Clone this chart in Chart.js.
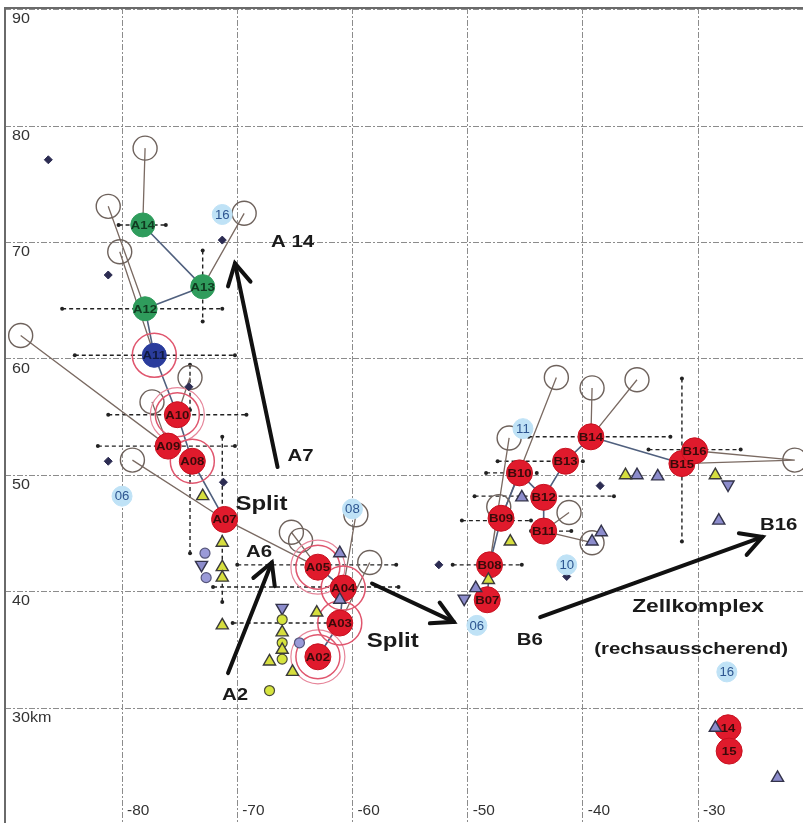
<!DOCTYPE html>
<html>
<head>
<meta charset="utf-8">
<script src="https://cdn.jsdelivr.net/npm/chart.js@4.4.0/dist/chart.umd.min.js"></script>
<style>
  html, body { margin: 0; padding: 0; background: #fff; }
</style>
</head>
<body>
<canvas id="chart" width="803" height="823"></canvas>
<script>
const xTicks = [-80, -70, -60, -50, -40, -30];
const yTicks = [30, 40, 50, 60, 70, 80, 90];
const yTickText = ["30km", "40", "50", "60", "70", "80", "90"];

// cells: [x, y, label]
const greenCells = [[-78.2, 71.5, "A14"], [-73.0, 66.2, "A13"], [-78.0, 64.3, "A12"]];
const blueCells = [[-77.2, 60.3, "A11"]];
const redCells = [
  [-75.2, 55.2, "A10"], [-76.0, 52.5, "A09"], [-73.9, 51.2, "A08"], [-71.1, 46.2, "A07"],
  [-63.0, 42.1, "A05"], [-60.8, 40.3, "A04"], [-61.1, 37.3, "A03"], [-63.0, 34.4, "A02"],
  [-48.1, 42.3, "B08"], [-48.3, 39.3, "B07"], [-47.1, 46.3, "B09"], [-45.5, 50.2, "B10"],
  [-43.4, 48.1, "B12"], [-43.4, 45.2, "B11"], [-41.5, 51.2, "B13"], [-39.3, 53.3, "B14"],
  [-31.4, 51.0, "B15"], [-30.3, 52.1, "B16"], [-27.4, 28.3, "14"], [-27.3, 26.3, "15"]
];
const rings = [[-77.2, 60.3], [-75.2, 55.2], [-73.9, 51.2], [-63.0, 42.1], [-60.8, 40.3], [-61.1, 37.3], [-63.0, 34.4]];
const outerRings = [[-63.0, 42.1], [-63.0, 34.4], [-75.2, 55.2]];
const openCircles = [
  [-78.0, 78.1], [-81.2, 73.1], [-80.2, 69.2], [-69.4, 72.5], [-88.8, 62.0], [-79.1, 51.3],
  [-74.1, 58.4], [-77.4, 56.3], [-65.3, 45.1], [-64.5, 44.4], [-59.7, 46.6], [-58.5, 42.5],
  [-46.4, 53.2], [-42.3, 58.4], [-39.2, 57.5], [-35.3, 58.2], [-21.6, 51.3], [-47.3, 47.3],
  [-41.2, 46.8], [-39.2, 44.2]
];
// segments: [x1, y1, x2, y2]
const tracks = [
  [-78.2, 71.5, -73.0, 66.2], [-73.0, 66.2, -78.0, 64.3], [-78.0, 64.3, -77.2, 60.3],
  [-77.2, 60.3, -75.2, 55.2], [-75.2, 55.2, -73.9, 51.2], [-73.9, 51.2, -71.1, 46.2],
  [-63.0, 42.1, -60.8, 40.3], [-60.8, 40.3, -61.1, 37.3], [-61.1, 37.3, -63.0, 34.4],
  [-48.3, 39.3, -48.1, 42.3], [-48.1, 42.3, -47.1, 46.3], [-47.1, 46.3, -45.5, 50.2],
  [-45.5, 50.2, -43.4, 48.1], [-43.4, 48.1, -43.4, 45.2], [-43.4, 48.1, -41.5, 51.2],
  [-41.5, 51.2, -39.3, 53.3], [-39.3, 53.3, -31.4, 51.0], [-31.4, 51.0, -30.3, 52.1]
];
const vectors = [
  [-78.0, 78.1, -78.2, 71.5], [-81.2, 73.1, -78.0, 64.3], [-80.2, 69.2, -77.2, 60.3],
  [-69.4, 72.5, -73.0, 66.2], [-88.8, 62.0, -76.0, 52.5], [-79.1, 51.3, -71.1, 46.2],
  [-71.1, 46.2, -63.0, 42.1], [-65.3, 45.1, -63.0, 42.1], [-59.7, 46.6, -60.8, 40.3],
  [-58.5, 42.5, -61.1, 37.3], [-46.4, 53.2, -48.1, 42.3], [-42.3, 58.4, -47.1, 46.3],
  [-39.2, 57.5, -39.3, 53.3], [-35.3, 58.2, -39.3, 53.3], [-21.6, 51.3, -31.4, 51.0],
  [-21.6, 51.3, -30.3, 52.1], [-41.2, 46.8, -43.4, 45.2], [-39.2, 44.2, -43.4, 45.2],
  [-47.3, 47.3, -48.1, 42.3], [-74.1, 58.4, -75.2, 55.2], [-77.4, 56.3, -76.0, 52.5]
];
const errorBars = [
  [-80.3, 71.5, -76.2, 71.5], [-73.0, 69.3, -73.0, 63.2], [-85.2, 64.3, -71.3, 64.3],
  [-84.1, 60.3, -70.2, 60.3], [-81.2, 55.2, -69.2, 55.2], [-82.1, 52.5, -70.2, 52.5],
  [-74.1, 59.5, -74.1, 55.6], [-71.3, 53.3, -71.3, 39.1], [-74.1, 52.0, -74.1, 43.3],
  [-70.0, 42.3, -56.2, 42.3], [-70.4, 37.3, -61.9, 37.3], [-72.1, 40.4, -56.0, 40.4],
  [-51.3, 42.3, -45.3, 42.3], [-50.5, 46.1, -44.5, 46.1], [-48.4, 50.2, -44.0, 50.2],
  [-47.4, 51.2, -40.0, 51.2], [-49.4, 48.2, -37.3, 48.2], [-44.5, 45.2, -41.0, 45.2],
  [-44.7, 53.3, -32.4, 53.3], [-34.3, 52.2, -26.3, 52.2], [-31.4, 58.3, -31.4, 44.3]
];
const diamonds = [
  [-86.4, 77.1], [-81.2, 67.2], [-71.3, 70.2], [-74.2, 57.6], [-81.2, 51.2], [-71.2, 49.4],
  [-52.5, 42.3], [-41.4, 41.3], [-38.5, 49.1]
];
const yellowUp = [
  [-73.0, 48.2], [-71.3, 44.2], [-71.3, 42.1], [-71.3, 41.2], [-71.3, 37.1], [-67.2, 34.0],
  [-65.2, 33.1], [-63.1, 38.2], [-66.1, 36.5], [-66.1, 35.0], [-46.3, 44.3], [-48.2, 41.0],
  [-36.3, 50.0], [-28.5, 50.0]
];
const yellowDots = [[-66.1, 37.6], [-66.1, 35.6], [-66.1, 34.2], [-67.2, 31.5]];
const purpleUp = [
  [-61.1, 43.3], [-61.1, 39.3], [-49.3, 40.3], [-45.3, 48.1], [-38.4, 45.1], [-39.2, 44.3],
  [-35.3, 50.0], [-33.5, 49.9], [-28.2, 46.1], [-28.5, 28.3], [-23.1, 24.0]
];
const purpleDown = [[-73.1, 42.3], [-66.1, 38.6], [-50.3, 39.4], [-27.4, 49.2]];
const purpleDots = [[-72.8, 43.3], [-72.7, 41.2], [-64.6, 35.6]];
const timeLabels = [
  [-71.3, 72.4, "16"], [-80.0, 48.2, "06"], [-60.0, 47.1, "08"], [-45.2, 54.0, "11"],
  [-41.4, 42.3, "10"], [-49.2, 37.1, "06"], [-27.5, 33.1, "16"]
];
const arrows = [
  [-66.5, 50.7, -70.2, 68.2], [-70.8, 33.0, -67.0, 42.5],
  [-58.3, 40.7, -51.2, 37.4], [-43.7, 37.8, -24.4, 44.7]
];
const notes = [
  ["A 14", -65.2, 70.0, 17], ["A7", -64.5, 51.6, 17], ["Split", -67.9, 47.5, 20],
  ["A6", -68.1, 43.4, 17], ["A2", -70.2, 31.1, 17], ["Split", -56.5, 35.7, 20],
  ["B6", -44.6, 35.8, 17], ["Zellkomplex", -30.0, 38.7, 19],
  ["(rechsausscherend)", -30.6, 35.0, 17], ["B16", -23.0, 45.7, 17]
];

const pts = arr => arr.map(p => ({x: p[0], y: p[1]}));
const segs = arr => arr.flatMap(s => [{x: s[0], y: s[1]}, {x: s[2], y: s[3]}, {x: null, y: null}]);

function markers(data, style, radius, bg, border, width, order, extra) {
  return Object.assign({
    data: pts(data), pointStyle: style, pointRadius: radius, backgroundColor: bg,
    borderColor: border, borderWidth: width, order: order
  }, extra || {});
}
function lines(data, color, width, order, extra) {
  return Object.assign({
    data: segs(data), showLine: true, pointRadius: 0, borderColor: color,
    borderWidth: width, spanGaps: false, order: order
  }, extra || {});
}

const datasets = [
  lines(errorBars, "#222", 1.4, 20, {borderDash: [4, 3], pointRadius: 2, pointBackgroundColor: "#222", pointBorderWidth: 0}),
  lines(vectors, "#7a6a62", 1.3, 19),
  lines(tracks, "#50607e", 1.6, 18),
  markers(openCircles, "circle", 12, "rgba(255,255,255,0)", "#6e625c", 1.4, 17),
  markers(rings, "circle", 22, "rgba(255,255,255,0)", "#e0566e", 1.5, 16),
  markers(diamonds, "rectRot", 4, "#2c2c52", "#2c2c52", 1, 15),
  markers(greenCells, "circle", 12, "#2f9c5c", "#2f9c5c", 1, 14),
  markers(blueCells, "circle", 12, "#2a3c9c", "#2a3c9c", 1, 14),
  markers(redCells, "circle", 13, "#e01a2c", "#c8101f", 1, 14),
  markers(yellowUp, "triangle", 7, "#d6de3e", "#3a3a3a", 1.4, 12),
  markers(yellowDots, "circle", 5, "#d6e43e", "#4a4a3a", 1.2, 12),
  markers(purpleUp, "triangle", 7, "#8c8ccc", "#33334a", 1.4, 12),
  markers(purpleDown, "triangle", 7, "#8c8ccc", "#33334a", 1.4, 12, {rotation: 180}),
  markers(purpleDots, "circle", 5, "#9a9ad8", "#55557a", 1.2, 12),
  markers(timeLabels, "circle", 10, "#bfe2f6", "#bfe2f6", 1, 11),
  lines(arrows, "#111", 4, 5, {borderCapStyle: "round"}),
  markers(outerRings, "circle", 27, "rgba(255,255,255,0)", "#e6869a", 1.2, 16)
];

function stretchText(ctx, text, px, py, sx) {
  ctx.save();
  ctx.translate(px, py);
  ctx.scale(sx, 1);
  ctx.fillText(text, 0, 0);
  ctx.restore();
}

const overlay = {
  id: "overlay",
  afterDatasetsDraw(chart) {
    const {ctx, chartArea, scales: {x, y}} = chart;
    ctx.save();
    // cell labels
    ctx.textAlign = "center";
    ctx.textBaseline = "middle";
    ctx.font = "bold 11px 'Liberation Sans', Arial, sans-serif";
    [[6, greenCells, "#103a20"], [7, blueCells, "#101a40"], [8, redCells, "#3a0a0a"]].forEach(([i, arr, col]) => {
      const meta = chart.getDatasetMeta(i);
      ctx.fillStyle = col;
      arr.forEach((c, j) => stretchText(ctx, c[2], meta.data[j].x, meta.data[j].y + 1, 1.2));
    });
    // time labels
    const tm = chart.getDatasetMeta(14);
    ctx.fillStyle = "#2d5590";
    ctx.font = "12px 'Liberation Sans', Arial, sans-serif";
    timeLabels.forEach((t, j) => stretchText(ctx, t[2], tm.data[j].x, tm.data[j].y + 1, 1.1));
    // arrow heads
    ctx.strokeStyle = "#111";
    ctx.lineWidth = 4;
    ctx.lineCap = "round";
    arrows.forEach(a => {
      const x1 = x.getPixelForValue(a[0]), y1 = y.getPixelForValue(a[1]);
      const x2 = x.getPixelForValue(a[2]), y2 = y.getPixelForValue(a[3]);
      const ang = Math.atan2(y2 - y1, x2 - x1);
      ctx.beginPath();
      ctx.moveTo(x2 - 24 * Math.cos(ang - 0.5), y2 - 24 * Math.sin(ang - 0.5));
      ctx.lineTo(x2, y2);
      ctx.lineTo(x2 - 24 * Math.cos(ang + 0.5), y2 - 24 * Math.sin(ang + 0.5));
      ctx.stroke();
    });
    // annotations
    ctx.fillStyle = "#1a1a1a";
    notes.forEach(n => {
      ctx.font = "bold " + n[3] + "px 'Liberation Sans', Arial, sans-serif";
      stretchText(ctx, n[0], x.getPixelForValue(n[1]), y.getPixelForValue(n[2]), 1.2);
    });
    // tick labels inside the frame
    ctx.fillStyle = "#333";
    ctx.font = "14px 'Liberation Sans', Arial, sans-serif";
    ctx.textAlign = "left";
    ctx.textBaseline = "top";
    yTicks.forEach((v, i) => stretchText(ctx, yTickText[i], chartArea.left + 7, y.getPixelForValue(v) + 3, 1.15));
    ctx.textBaseline = "middle";
    xTicks.forEach(v => stretchText(ctx, String(v), x.getPixelForValue(v) + 5, chartArea.bottom - 12, 1.1));
    // frame
    ctx.strokeStyle = "#6a6a6a";
    ctx.lineWidth = 2;
    ctx.strokeRect(chartArea.left, chartArea.top, chartArea.right - chartArea.left + 4, chartArea.bottom - chartArea.top + 4);
    ctx.restore();
  }
};

new Chart(document.getElementById("chart").getContext("2d"), {
  type: "scatter",
  data: {datasets},
  options: {
    responsive: false,
    animation: false,
    layout: {autoPadding: false, padding: {left: 5, top: 8, right: 0, bottom: 0}},
    plugins: {legend: {display: false}, tooltip: {enabled: false}},
    scales: {
      x: {
        type: "linear", min: -90.16, max: -20.89,
        afterBuildTicks: s => { s.ticks = xTicks.map(v => ({value: v})); },
        afterFit: s => { s.height = 0; },
        ticks: {display: false},
        grid: {color: "#8c8c8c", lineWidth: 1, drawTicks: false},
        border: {display: false, dash: [6, 2, 2, 2]}
      },
      y: {
        type: "linear", min: 20.12, max: 90.14,
        afterBuildTicks: s => { s.ticks = yTicks.map(v => ({value: v})); },
        afterFit: s => { s.width = 0; },
        ticks: {display: false},
        grid: {color: "#8c8c8c", lineWidth: 1, drawTicks: false},
        border: {display: false, dash: [6, 2, 2, 2]}
      }
    }
  },
  plugins: [overlay]
});
</script>
</body>
</html>
